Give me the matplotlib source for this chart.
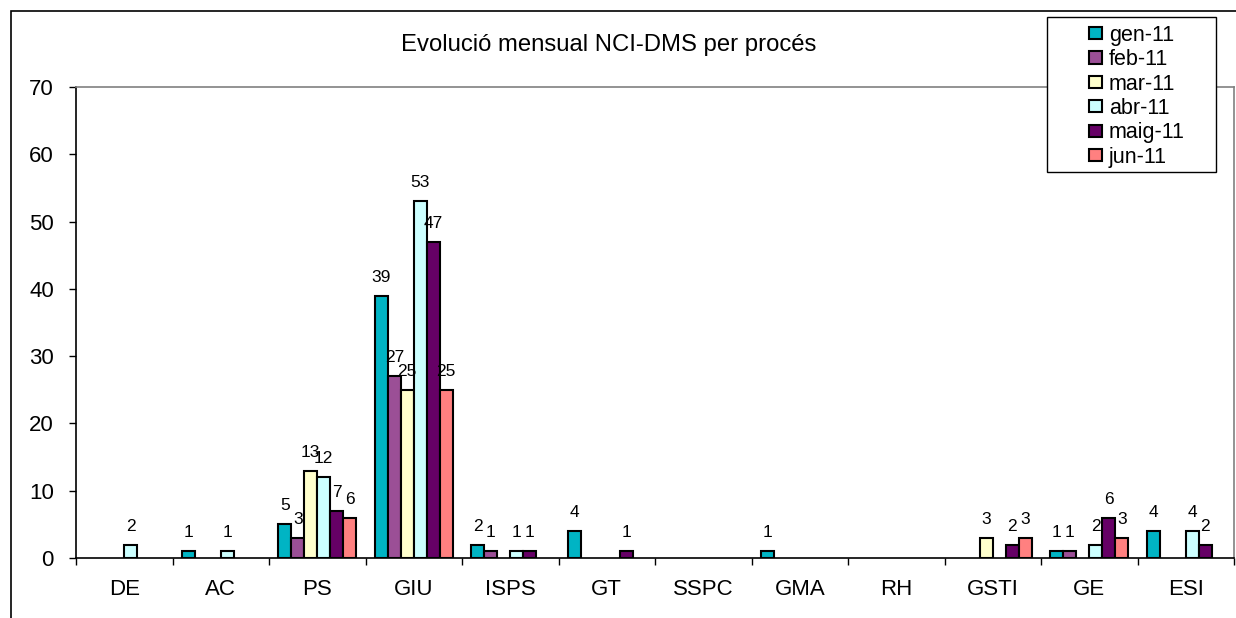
import numpy as np
import matplotlib
matplotlib.use('Agg')
import matplotlib.pyplot as plt
from matplotlib.patches import Rectangle

plt.rcParams['font.family'] = ['Liberation Sans', 'DejaVu Sans']

# data (nan = no bar)
n = np.nan
categories = ['DE', 'AC', 'PS', 'GIU', 'ISPS', 'GT', 'SSPC', 'GMA', 'RH', 'GSTI', 'GE', 'ESI']
months = ['gen-11', 'feb-11', 'mar-11', 'abr-11', 'maig-11', 'jun-11']
gen_11 = [n, 1, 5, 39, 2, 4, n, 1, n, n, 1, 4]
feb_11 = [n, n, 3, 27, 1, n, n, n, n, n, 1, n]
mar_11 = [n, n, 13, 25, n, n, n, n, n, 3, n, n]
abr_11 = [2, 1, 12, 53, 1, n, n, n, n, n, 2, 4]
maig_11 = [n, n, 7, 47, 1, 1, n, n, n, 2, 6, 2]
jun_11 = [n, n, 6, 25, n, n, n, n, n, 3, 3, n]
series = [gen_11, feb_11, mar_11, abr_11, maig_11, jun_11]
colors = ['#00B4C4', '#9B4F96', '#FFFFCC', '#CCFFFF', '#660066', '#FF8080']

W, H = 1236, 618
fig = plt.figure(figsize=(W / 100, H / 100), dpi=100)

# outer chart frame
fig.patches.append(Rectangle((11 / W, -0.2), 1.2, 1.2 - 11 / H,
                             transform=fig.transFigure, fill=False,
                             edgecolor='black', linewidth=1.2))

ax = fig.add_axes([76 / W, 1 - 558 / H, (1234 - 76) / W, (558 - 87) / H])

x = np.arange(len(categories)) + 0.5
bw = 13 / 96.5
for i, (vals, c, lab) in enumerate(zip(series, colors, months)):
    xs = x - 3 * bw + (i + 0.5) * bw
    ax.bar(xs, vals, width=bw, color=c, edgecolor='black', linewidth=1.5,
           label=lab, zorder=2)
for i, vals in enumerate(series):
    xs = x - 3 * bw + (i + 0.5) * bw
    for xi, v in zip(xs, vals):
        if not np.isnan(v):
            ax.annotate(str(int(v)), (xi, v), xytext=(0, 11),
                        textcoords='offset pixels', ha='center', va='bottom',
                        fontsize=12.5, zorder=5)

ax.set_xlim(0, len(categories))
ax.set_ylim(0, 70)
ax.set_yticks(np.arange(0, 71, 10))
ax.set_xticks(np.arange(0, len(categories) + 1))
ax.set_xticklabels([])
ax.set_xticks(x, minor=True)
ax.set_xticklabels(categories, minor=True, fontsize=16)
ax.tick_params(axis='x', which='minor', length=0, pad=15)
ax.tick_params(axis='x', which='major', length=5, direction='out', width=1)
ax.tick_params(axis='y', length=5, width=1, pad=11, labelsize=16)

for s in ['top', 'right']:
    ax.spines[s].set_color('#808080')
    ax.spines[s].set_linewidth(1.2)
for s in ['left', 'bottom']:
    ax.spines[s].set_color('black')
    ax.spines[s].set_linewidth(1.2)

fig.text(609 / W, 1 - 45 / H, 'Evolució mensual NCI-DMS per procés',
         ha='center', va='center', fontsize=17.2)

# legend box
fig.patches.append(Rectangle((1047 / W, 1 - 172 / H), (1216 - 1047) / W, (172 - 17) / H,
                             transform=fig.transFigure, facecolor='white',
                             edgecolor='black', linewidth=1.0, zorder=10))
handles, labels = ax.get_legend_handles_labels()
leg = fig.legend(handles, labels, loc='upper left',
                 bbox_to_anchor=(1080 / W, 1 - 16 / H), frameon=False,
                 fontsize=15.5, handlelength=0.6, handleheight=0.5,
                 handletextpad=0.35, labelspacing=0.16, borderaxespad=0)
leg.set_zorder(11)

fig.savefig('out.png', dpi=100)
